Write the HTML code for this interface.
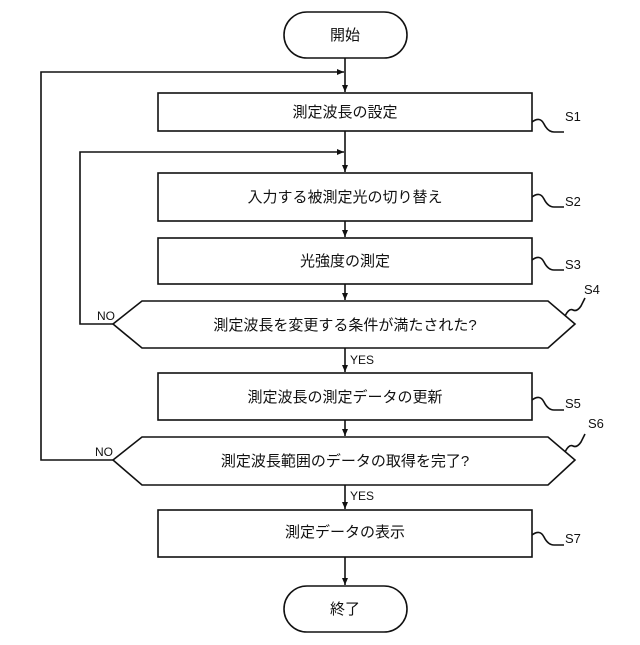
<!DOCTYPE html>
<html><head><meta charset="utf-8"><style>
body{margin:0;background:#fff}
svg text{font-family:"Liberation Sans","Noto Sans CJK JP",sans-serif;fill:#111}
</style></head><body>
<svg width="640" height="640" viewBox="0 0 640 640" xmlns="http://www.w3.org/2000/svg">
<defs><marker id="a" markerWidth="8" markerHeight="8" refX="7" refY="4" orient="auto" markerUnits="userSpaceOnUse"><path d="M0,1 L7,4 L0,7 z" fill="#111"/></marker></defs>
<g stroke="#111" stroke-width="1.6" fill="none">
<rect x="284" y="12" width="123" height="46" rx="23"/>
<rect x="158" y="93" width="374" height="38"/>
<rect x="158" y="173" width="374" height="48"/>
<rect x="158" y="238" width="374" height="46"/>
<polygon points="113,324 142,301 548,301 575,324 548,348 142,348"/>
<rect x="158" y="373" width="374" height="47"/>
<polygon points="113,460 142,437 548,437 575,460 548,485 142,485"/>
<rect x="158" y="510" width="374" height="47"/>
<rect x="284" y="586" width="123" height="46" rx="23"/>
<line x1="345" y1="58" x2="345" y2="92" marker-end="url(#a)"/>
<line x1="345" y1="131" x2="345" y2="172" marker-end="url(#a)"/>
<line x1="345" y1="221" x2="345" y2="237" marker-end="url(#a)"/>
<line x1="345" y1="284" x2="345" y2="300" marker-end="url(#a)"/>
<line x1="345" y1="348" x2="345" y2="372" marker-end="url(#a)"/>
<line x1="345" y1="420" x2="345" y2="436" marker-end="url(#a)"/>
<line x1="345" y1="485" x2="345" y2="509" marker-end="url(#a)"/>
<line x1="345" y1="557" x2="345" y2="585" marker-end="url(#a)"/>
<polyline points="113,460 41,460 41,72 344,72" marker-end="url(#a)"/>
<polyline points="113,324 80,324 80,152 344,152" marker-end="url(#a)"/>
<path d="M532,122 q8,-6 12,2 t10,8 l10,0"/>
<path d="M532,197 q8,-6 12,2 t10,8 l10,0"/>
<path d="M532,260 q8,-6 12,2 t10,8 l10,0"/>
<path d="M532,400 q8,-6 12,2 t10,8 l10,0"/>
<path d="M532,535 q8,-6 12,2 t10,8 l10,0"/>
<path d="M565,316 q4,-8 8,-6 t8,-4 l4,-8"/>
<path d="M565,452 q4,-8 8,-6 t8,-4 l4,-8"/>
</g>
<g font-size="15" text-anchor="middle">
<text x="345" y="40">開始</text>
<text x="345" y="117">測定波長の設定</text>
<text x="345" y="202">入力する被測定光の切り替え</text>
<text x="345" y="266">光強度の測定</text>
<text x="345" y="330">測定波長を変更する条件が満たされた?</text>
<text x="345" y="402">測定波長の測定データの更新</text>
<text x="345" y="466">測定波長範囲のデータの取得を完了?</text>
<text x="345" y="537">測定データの表示</text>
<text x="345" y="614">終了</text>
</g>
<g font-size="13">
<text x="565" y="121">S1</text>
<text x="565" y="206">S2</text>
<text x="565" y="269">S3</text>
<text x="584" y="294">S4</text>
<text x="565" y="408">S5</text>
<text x="588" y="428">S6</text>
<text x="565" y="543">S7</text>
<text x="97" y="320" font-size="12">NO</text>
<text x="95" y="456" font-size="12">NO</text>
<text x="350" y="364" font-size="12">YES</text>
<text x="350" y="500" font-size="12">YES</text>
</g>
</svg>
</body></html>
